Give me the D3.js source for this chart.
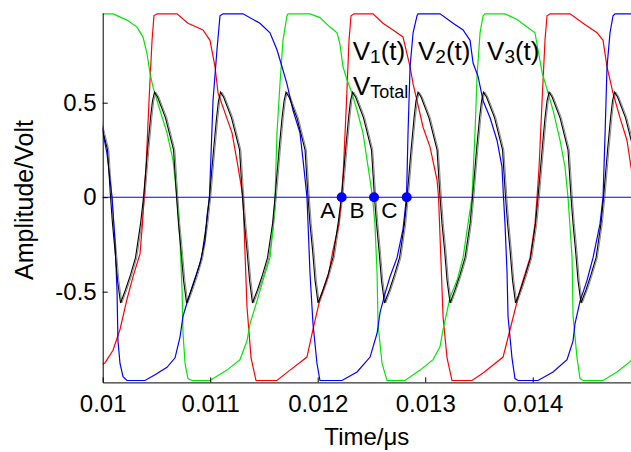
<!DOCTYPE html>
<html>
<head>
<meta charset="utf-8">
<script src="https://cdn.jsdelivr.net/npm/d3@7"></script>
<style>
  body { margin: 0; background: #fff; }
  text { font-family: "Liberation Sans", Arial, sans-serif; }
</style>
</head>
<body>
<div id="plot-container"></div>
<script>
// traces, [time (s), amplitude (V)]
const v1Points = [
  [0.009975,-0.89],[0.010021,-0.877],[0.010096,-0.81],[0.010161,-0.70],[0.010226,-0.54],[0.010282,-0.42],
  [0.010347,-0.30],[0.010370,-0.14],[0.010384,0],[0.010403,0.16],[0.010431,0.51],[0.010459,0.83],
  [0.010477,0.96],[0.010505,0.97],[0.010691,0.97],[0.010793,0.92],[0.010933,0.885],[0.010998,0.83],
  [0.011045,0.69],[0.011073,0.55],[0.011203,0.34],[0.011259,0.16],[0.011305,0],[0.011342,-0.58],
  [0.011380,-0.85],[0.011426,-0.97],[0.011621,-0.97],[0.011742,-0.915],[0.011900,-0.846],[0.011956,-0.70],
  [0.012021,-0.54],[0.012096,-0.42],[0.012142,-0.28],[0.012198,-0.14],[0.012221,0],[0.012240,0.16],
  [0.012268,0.51],[0.012291,0.83],[0.012310,0.96],[0.012338,0.97],[0.012514,0.97],[0.012607,0.92],
  [0.012700,0.885],[0.012793,0.848],[0.012859,0.69],[0.012887,0.60],[0.012924,0.51],[0.012980,0.37],
  [0.013045,0.265],[0.013110,0.09],[0.013124,0],[0.013166,-0.635],[0.013203,-0.85],[0.013249,-0.97],
  [0.013435,-0.97],[0.013538,-0.93],[0.013724,-0.846],[0.013789,-0.70],[0.013882,-0.49],[0.013975,-0.32],
  [0.014021,-0.14],[0.014040,0],[0.014059,0.16],[0.014087,0.51],[0.014114,0.83],[0.014133,0.96],
  [0.014161,0.97],[0.014347,0.97],[0.014468,0.92],[0.014598,0.87],[0.014654,0.83],[0.014691,0.69],
  [0.014747,0.55],[0.014812,0.42],[0.014877,0.30],[0.014914,0.16],[0.014952,0.02]
];

const v2Points = [
  [0.009975,0.42],[0.010003,0.34],[0.010040,0.23],[0.010068,0.09],[0.010087,0],[0.010114,-0.23],
  [0.010133,-0.49],[0.010142,-0.76],[0.010161,-0.88],[0.010189,-0.95],[0.010226,-0.97],[0.010393,-0.97],
  [0.010487,-0.94],[0.010598,-0.90],[0.010673,-0.85],[0.010719,-0.74],[0.010747,-0.63],[0.010784,-0.56],
  [0.010840,-0.46],[0.010905,-0.35],[0.010952,-0.23],[0.010970,-0.10],[0.010993,0],[0.011026,0.51],
  [0.011063,0.78],[0.011091,0.96],[0.011119,0.97],[0.011305,0.97],[0.011463,0.92],[0.011556,0.87],
  [0.011621,0.78],[0.011668,0.69],[0.011714,0.60],[0.011770,0.46],[0.011835,0.34],[0.011863,0.20],
  [0.011900,0],[0.011910,-0.14],[0.011928,-0.40],[0.011956,-0.67],[0.011993,-0.88],[0.012021,-0.97],
  [0.012226,-0.97],[0.012366,-0.925],[0.012487,-0.846],[0.012552,-0.72],[0.012580,-0.61],[0.012626,-0.51],
  [0.012673,-0.42],[0.012738,-0.32],[0.012793,-0.17],[0.012826,0],[0.012840,0.34],[0.012859,0.69],
  [0.012887,0.87],[0.012924,0.96],[0.012933,0.97],[0.013138,0.97],[0.013259,0.92],[0.013352,0.885],
  [0.013417,0.83],[0.013445,0.71],[0.013491,0.64],[0.013538,0.51],[0.013603,0.42],[0.013668,0.30],
  [0.013714,0.16],[0.013728,0],[0.013742,-0.14],[0.013761,-0.40],[0.013770,-0.63],[0.013807,-0.85],
  [0.013835,-0.96],[0.013863,-0.97],[0.014049,-0.97],[0.014189,-0.925],[0.014319,-0.86],[0.014375,-0.76],
  [0.014393,-0.67],[0.014440,-0.55],[0.014505,-0.44],[0.014561,-0.32],[0.014626,-0.14],[0.014654,0],
  [0.014673,0.34],[0.014691,0.69],[0.014719,0.87],[0.014747,0.96],[0.014766,0.97],[0.014952,0.97]
];

const v3Points = [
  [0.009975,0.97],[0.010096,0.97],[0.010226,0.937],[0.010319,0.90],[0.010375,0.847],[0.010412,0.76],
  [0.010440,0.656],[0.010468,0.582],[0.010533,0.46],[0.010598,0.34],[0.010654,0.196],[0.010691,0],
  [0.010719,-0.23],[0.010738,-0.49],[0.010747,-0.72],[0.010766,-0.88],[0.010793,-0.96],[0.010831,-0.97],
  [0.010998,-0.97],[0.011156,-0.915],[0.011277,-0.86],[0.011342,-0.76],[0.011370,-0.67],[0.011435,-0.55],
  [0.011491,-0.44],[0.011556,-0.32],[0.011584,-0.17],[0.011603,0],[0.011621,0.34],[0.011649,0.60],
  [0.011677,0.83],[0.011714,0.96],[0.011724,0.97],[0.011928,0.97],[0.012021,0.95],[0.012114,0.90],
  [0.012180,0.87],[0.012207,0.81],[0.012235,0.69],[0.012273,0.62],[0.012319,0.55],[0.012366,0.46],
  [0.012421,0.34],[0.012487,0.09],[0.012510,0],[0.012532,-0.14],[0.012552,-0.40],[0.012561,-0.67],
  [0.012598,-0.88],[0.012645,-0.97],[0.012812,-0.97],[0.012952,-0.915],[0.013073,-0.86],[0.013138,-0.79],
  [0.013166,-0.70],[0.013231,-0.53],[0.013296,-0.44],[0.013352,-0.32],[0.013398,-0.14],[0.013435,0],
  [0.013463,0.34],[0.013482,0.64],[0.013510,0.87],[0.013538,0.96],[0.013556,0.97],[0.013742,0.97],
  [0.013854,0.94],[0.013947,0.90],[0.014021,0.87],[0.014049,0.78],[0.014087,0.66],[0.014133,0.57],
  [0.014189,0.46],[0.014254,0.30],[0.014300,0.16],[0.014328,0],[0.014366,-0.32],[0.014375,-0.63],
  [0.014412,-0.85],[0.014440,-0.96],[0.014468,-0.97],[0.014654,-0.97],[0.014784,-0.925],[0.014905,-0.87],
  [0.014998,-0.80]
];

const vTotalPoints = [
  [0.009970,0.42],[0.010045,0.25],[0.010073,0],[0.010091,-0.14],[0.010114,-0.28],[0.010138,-0.44],
  [0.010166,-0.56],[0.010212,-0.49],[0.010259,-0.41],[0.010305,-0.32],[0.010352,-0.14],
  [0.010380,0],[0.010417,0.25],[0.010445,0.42],[0.010463,0.51],[0.010482,0.556],[0.010510,0.53],
  [0.010584,0.42],[0.010659,0.25],[0.010687,0],[0.010705,-0.14],[0.010728,-0.28],[0.010752,-0.44],
  [0.010780,-0.56],[0.010826,-0.49],[0.010873,-0.41],[0.010919,-0.32],[0.010966,-0.14],
  [0.010993,0],[0.011031,0.25],[0.011059,0.42],[0.011077,0.51],[0.011096,0.556],[0.011124,0.53],
  [0.011198,0.42],[0.011273,0.25],[0.011300,0],[0.011319,-0.14],[0.011342,-0.28],[0.011366,-0.44],
  [0.011393,-0.56],[0.011440,-0.49],[0.011487,-0.41],[0.011533,-0.32],[0.011580,-0.14],
  [0.011603,0],[0.011640,0.25],[0.011668,0.42],[0.011687,0.51],[0.011705,0.556],[0.011733,0.53],
  [0.011807,0.42],[0.011882,0.25],[0.011910,0],[0.011928,-0.14],[0.011952,-0.28],[0.011975,-0.44],
  [0.012003,-0.56],[0.012049,-0.49],[0.012096,-0.41],[0.012142,-0.32],[0.012189,-0.14],
  [0.012221,0],[0.012259,0.25],[0.012287,0.42],[0.012305,0.51],[0.012324,0.556],[0.012352,0.53],
  [0.012426,0.42],[0.012500,0.25],[0.012528,0],[0.012547,-0.14],[0.012570,-0.28],[0.012593,-0.44],
  [0.012621,-0.56],[0.012668,-0.49],[0.012714,-0.41],[0.012761,-0.32],[0.012807,-0.14],
  [0.012831,0],[0.012868,0.25],[0.012896,0.42],[0.012914,0.51],[0.012933,0.556],[0.012961,0.53],
  [0.013035,0.42],[0.013110,0.25],[0.013138,0],[0.013156,-0.14],[0.013180,-0.28],[0.013203,-0.44],
  [0.013231,-0.56],[0.013277,-0.49],[0.013324,-0.41],[0.013370,-0.32],[0.013417,-0.14],
  [0.013440,0],[0.013477,0.25],[0.013505,0.42],[0.013524,0.51],[0.013542,0.556],[0.013570,0.53],
  [0.013645,0.42],[0.013719,0.25],[0.013747,0],[0.013766,-0.14],[0.013789,-0.28],[0.013812,-0.44],
  [0.013840,-0.56],[0.013887,-0.49],[0.013933,-0.41],[0.013980,-0.32],[0.014026,-0.14],
  [0.014049,0],[0.014087,0.25],[0.014114,0.42],[0.014133,0.51],[0.014152,0.556],[0.014180,0.53],
  [0.014254,0.42],[0.014328,0.25],[0.014356,0],[0.014375,-0.14],[0.014398,-0.28],[0.014421,-0.44],
  [0.014449,-0.56],[0.014496,-0.49],[0.014542,-0.41],[0.014589,-0.32],[0.014635,-0.14],
  [0.014659,0],[0.014696,0.25],[0.014724,0.42],[0.014742,0.51],[0.014761,0.556],[0.014789,0.53],
  [0.014863,0.42],[0.014938,0.25],[0.014966,0]
];

// zero crossings marked on the trace
const markerNames = ["A", "B", "C"];
const markerTimes = [0.012223, 0.012524, 0.012828];

const xTicks = [0.01, 0.011, 0.012, 0.013, 0.014];
const yTicks = [-0.5, 0, 0.5];
const xDomain = [0.01, 0.014914];
const yDomain = [-0.98, 0.975];

var margin = {top: 12.9, right: 0, bottom: 69.6, left: 102.7},
    width = 631 - margin.left - margin.right,
    height = 452 - margin.top - margin.bottom;

var svg = d3.select("#plot-container")
  .append("svg")
    .attr("width", 631)
    .attr("height", 452)
  .append("g")
    .attr("transform", "translate(" + margin.left + "," + margin.top + ")");

const x = d3.scaleLinear().domain(xDomain).range([0, width]);
const y = d3.scaleLinear().domain(yDomain).range([height, 0]);

svg.append("clipPath").attr("id", "plot-clip")
  .append("rect")
    .attr("x", 0).attr("y", -1)
    .attr("width", width).attr("height", height + 1);

const line = d3.line().x(d => x(d[0])).y(d => y(d[1]));

const traces = svg.append("g").attr("clip-path", "url(#plot-clip)");

// black total drawn with a faint grey shadow, like the stair-stepped original
traces.append("path")
  .datum(vTotalPoints)
  .attr("d", line)
  .attr("transform", "translate(1.3,0)")
  .attr("fill", "none")
  .attr("stroke", "#8a8a8a")
  .attr("stroke-width", 1);

[[v1Points, "#ff0000"], [v3Points, "#00e600"], [v2Points, "#0000ff"]].forEach(([pts, col]) => {
  traces.append("path")
    .datum(pts)
    .attr("d", line)
    .attr("fill", "none")
    .attr("stroke", col)
    .attr("stroke-width", 1.2);
});

traces.append("path")
  .datum(vTotalPoints)
  .attr("d", line)
  .attr("fill", "none")
  .attr("stroke", "#000")
  .attr("stroke-width", 1.1);

// zero reference line
traces.append("path")
  .datum([[xDomain[0], 0], [xDomain[1], 0]])
  .attr("d", line)
  .attr("stroke", "#0000ff")
  .attr("stroke-width", 1.1);

// axes, ticks point inward
const xAxis = svg.append("g")
  .attr("transform", "translate(0," + height + ")")
  .call(d3.axisBottom(x).tickValues(xTicks).tickFormat(d => String(d))
    .tickSizeInner(-5).tickSizeOuter(0).tickPadding(12.6));

const yAxis = svg.append("g")
  .call(d3.axisLeft(y).tickValues(yTicks).tickFormat(d => String(d))
    .tickSizeInner(-5).tickSizeOuter(0).tickPadding(6));

[xAxis, yAxis].forEach(g => {
  g.attr("font-size", 24).attr("font-family", "Liberation Sans, Arial, sans-serif");
  g.selectAll("path, line").attr("stroke", "#000");
  g.selectAll("text").attr("fill", "#000");
});

// markers
svg.selectAll("circle.marker")
  .data(markerTimes)
  .enter()
  .append("circle")
    .attr("class", "marker")
    .attr("cx", d => x(d))
    .attr("cy", y(0))
    .attr("r", 5)
    .attr("fill", "#0000ff");

const markerLabelTimes = [0.012024, 0.012296, 0.012592];
svg.selectAll("text.marker-label")
  .data(markerNames)
  .enter()
  .append("text")
    .attr("class", "marker-label")
    .attr("x", (d, i) => x(markerLabelTimes[i]))
    .attr("y", y(-0.11))
    .attr("font-size", 22.5)
    .text(d => d);

// curve labels
function subLabel(t, v, sub, tail, subSize){
  const txt = svg.append("text")
    .attr("x", x(t))
    .attr("y", y(v))
    .attr("font-size", 26);
  txt.append("tspan").text("V");
  txt.append("tspan").attr("font-size", subSize).attr("dy", 3).text(sub);
  if (tail) txt.append("tspan").attr("dy", -3).text(tail);
}
subLabel(0.012326, 0.726, "1", "(t)", 19);
subLabel(0.012933, 0.726, "2", "(t)", 19);
subLabel(0.013575, 0.726, "3", "(t)", 19);
subLabel(0.012328, 0.541, "Total", "", 18);

// axis titles
svg.append("text")
  .attr("text-anchor", "middle")
  .attr("x", width / 2)
  .attr("y", 445 - margin.top)
  .attr("font-size", 24)
  .text("Time/μs");

svg.append("text")
  .attr("text-anchor", "middle")
  .attr("transform", "rotate(-90)")
  .attr("x", -(200 - margin.top))
  .attr("y", 33 - margin.left)
  .attr("font-size", 25)
  .text("Amplitude/Volt");
</script>
</body>
</html>
